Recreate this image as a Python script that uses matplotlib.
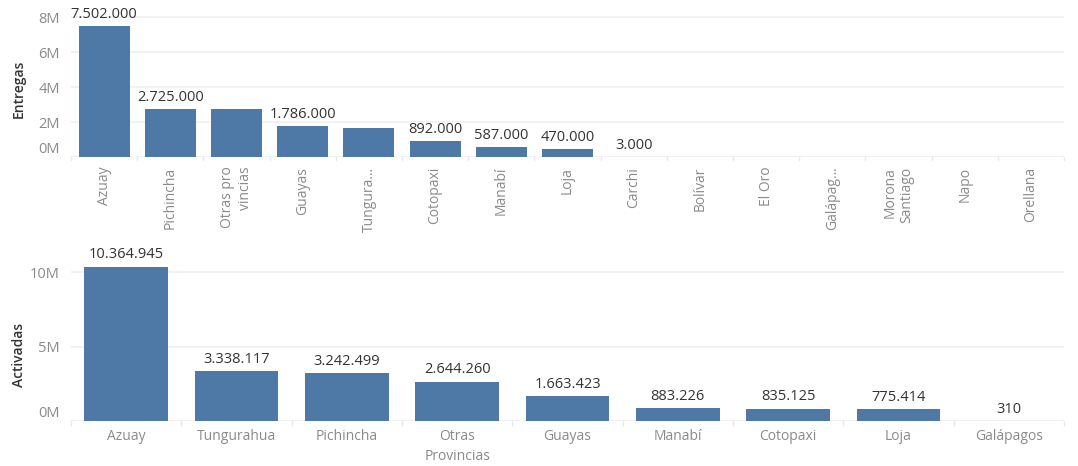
import matplotlib.pyplot as plt
from matplotlib.ticker import FuncFormatter

# Entregas por provincia
top_labels = ["Azuay", "Pichincha", "Otras pro\nvincias", "Guayas", "Tungura\u2026",
              "Cotopaxi", "Manabí", "Loja", "Carchi", "Bolívar", "El Oro",
              "Galápag\u2026", "Morona\nSantiago", "Napo", "Orellana"]
top_values = [7502000, 2725000, 2720000, 1786000, 1650000, 892000, 587000,
              470000, 3000, 0, 0, 0, 0, 0, 0]
# which bars carry a value label
top_shown = [True, True, False, True, False, True, True, True, True,
             False, False, False, False, False, False]
top_ticks = [0, 2e6, 4e6, 6e6, 8e6]

# Activadas por provincia
bot_labels = ["Azuay", "Tungurahua", "Pichincha", "Otras\nProvincias", "Guayas",
              "Manabí", "Cotopaxi", "Loja", "Galápagos"]
bot_values = [10364945, 3338117, 3242499, 2644260, 1663423, 883226, 835125,
              775414, 310]
bot_ticks = [0, 5e6, 10e6]

BAR = "#4e79a7"
TICK = "#8a8a8a"
TEXT = "#333333"
GRID = "#f0f0f0"

plt.rcParams['font.family'] = ['Open Sans', 'DejaVu Sans']

W, H = 1078, 466
fig = plt.figure(figsize=(W / 100, H / 100), dpi=100)


def px_axes(left, top, right, bottom):
    return fig.add_axes([left / W, 1 - bottom / H, (right - left) / W, (bottom - top) / H])


def fmt_num(v):
    return f"{v:,}".replace(",", ".")


def style(ax, n, ticks, ymax, ylabel, label_y):
    ax.set_xlim(-0.5, n - 0.5)
    ax.set_ylim(0, ymax)
    ax.set_yticks(ticks)
    ax.yaxis.set_major_formatter(FuncFormatter(lambda v, p: f"{v / 1e6:.0f}M"))
    for s in ax.spines.values():
        s.set_visible(False)
    ax.grid(axis="y", color=GRID, linewidth=1.2)
    ax.set_axisbelow(True)
    ax.axhline(0, color="#e8e8e8", linewidth=1, zorder=0)
    ax.tick_params(axis="y", length=0, labelsize=10.5, labelcolor=TICK, pad=8)
    ax.tick_params(axis="x", length=0, labelcolor=TICK)
    # category separators below the axis
    for b in range(n + 1):
        ax.plot([b - 0.5, b - 0.5], [0, -0.02], transform=ax.get_xaxis_transform(),
                color="#e8e8e8", linewidth=1, clip_on=False)
    ax.set_ylabel(ylabel, fontsize=10, color=TEXT, fontweight="semibold")
    ax.yaxis.set_label_coords(-45 / 993, label_y)
    fig.canvas.draw()
    ax.get_yticklabels()[0].set_va("bottom")


# --- top chart ---
ax1 = px_axes(71, 5, 1064, 157)
x1 = range(len(top_labels))
ax1.bar(x1, top_values, width=0.77, color=BAR)
style(ax1, len(top_labels), top_ticks, 8.69e6, "Entregas", 0.45)
ax1.set_xticks(list(x1))
ax1.set_xticklabels(top_labels, rotation=90, fontsize=10, va="top", ha="center",
                    multialignment="right")
ax1.tick_params(axis="x", pad=7)
for i, (v, s) in enumerate(zip(top_values, top_shown)):
    if s:
        ax1.annotate(fmt_num(v), (i, v), xytext=(0, 3), textcoords="offset points",
                     ha="center", va="bottom", fontsize=10.5, color=TEXT)

# --- bottom chart ---
ax2 = px_axes(71, 240, 1064, 421)
x2 = range(len(bot_labels))
ax2.bar(x2, bot_values, width=0.76, color=BAR)
style(ax2, len(bot_labels), bot_ticks, 12.15e6, "Activadas", 0.365)
ax2.set_xticks(list(x2))
ax2.set_xticklabels(bot_labels, fontsize=10, linespacing=1.4)
ax2.tick_params(axis="x", pad=6)
for i, v in enumerate(bot_values):
    ax2.annotate(fmt_num(v), (i, v), xytext=(0, 3), textcoords="offset points",
                 ha="center", va="bottom", fontsize=10.5, color=TEXT)

fig.savefig("out.png", dpi=100)
